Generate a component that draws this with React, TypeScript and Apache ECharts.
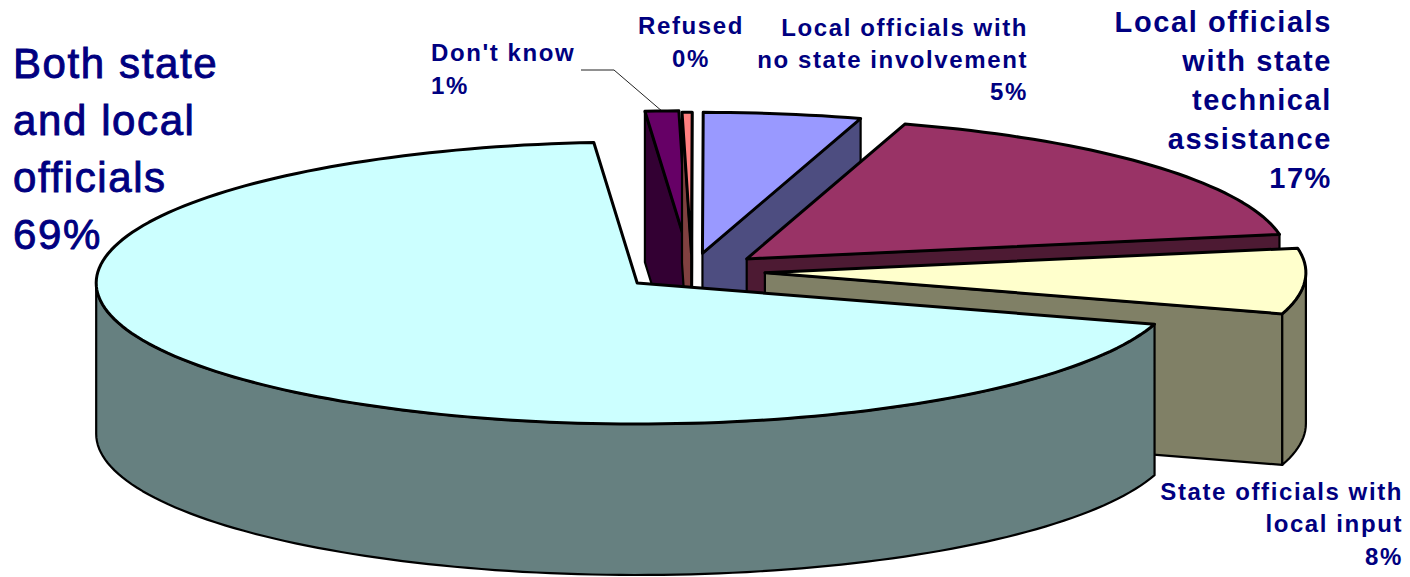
import React, { useEffect, useRef } from "react";
import * as echarts from "echarts";

// ---- data, clockwise from the pie's first slice
const categories = [
  "Both state and local officials",
  "Don't know",
  "Refused",
  "Local officials with no state involvement",
  "Local officials with state technical assistance",
  "State officials with local input",
];
const values = [69.0, 1.0, 0.3, 4.7, 17.5, 7.5];

// ---- styles
const topColors = ["#CCFFFF", "#660066", "#FF8080", "#9999FF", "#993366", "#FFFFCC"];
const wallColors = ["#668080", "#330033", "#804040", "#4D4D80", "#4D1A33", "#808066"];
// back-to-front painting order (indices into categories)
const paintOrder = [1, 2, 3, 4, 5, 0];
// how far each slice is pulled out of the pie
const explode = [0.13, 0.14, 0.13, 0.13, 0.135, 0.135];

// ---- 3D pie projection
const W = 1410;
const H = 577;
const CX = 692;
const CY = 271.5;
const RX = 541;
const RY = 141;
const DEPTH = 151;
const FIRST_ANGLE = 107; // degrees clockwise from the top of the pie

const total = values.reduce((a, b) => a + b, 0);
const rad = (d: number) => (d * Math.PI) / 180;

function sliceAngles(i: number) {
  let start = FIRST_ANGLE;
  for (let k = 0; k < i; k++) start += (values[k] / total) * 360;
  return [start, start + (values[i] / total) * 360];
}

function renderItem(params: any) {
  const i = paintOrder[params.dataIndex];
  const [a0, a1] = sliceAngles(i);
  const mid = (a0 + a1) / 2;
  const ax = CX + explode[i] * RX * Math.sin(rad(mid));
  const ay = CY - explode[i] * RY * Math.cos(rad(mid));
  const pt = (a: number, d = 0) => [
    ax + RX * Math.sin(rad(a)),
    ay - RY * Math.cos(rad(a)) + d,
  ];
  const arc = (from: number, to: number, d = 0) => {
    const n = Math.max(2, Math.ceil((to - from) / 1.5));
    const out: number[][] = [];
    for (let k = 0; k <= n; k++) out.push(pt(from + ((to - from) * k) / n, d));
    return out;
  };
  const poly = (points: number[][], fill: string, lineWidth: number) => ({
    type: "polygon",
    shape: { points },
    style: { fill, stroke: "#000", lineWidth, lineJoin: "round" },
  });
  const children: any[] = [];
  const wall = wallColors[i];
  const apex = [ax, ay];
  const apexLow = [ax, ay + DEPTH];
  // radial walls facing the viewer
  if (Math.sin(rad(a0)) < 0) {
    children.push(poly([apex, pt(a0), pt(a0, DEPTH), apexLow], wall, 2.2));
  }
  if (Math.sin(rad(a1)) > 0) {
    children.push(poly([apex, pt(a1), pt(a1, DEPTH), apexLow], wall, 2.2));
  }
  // outer rim: only the front half of the circle is seen
  for (const base of [0, 360]) {
    const from = Math.max(a0, base + 90);
    const to = Math.min(a1, base + 270);
    if (to > from) {
      children.push(poly([...arc(from, to), ...arc(from, to, DEPTH).reverse()], wall, 2.2));
    }
  }
  // top face
  children.push(poly([apex, ...arc(a0, a1)], topColors[i], 3));
  return { type: "group", children };
}

const FONT = "Liberation Sans";
const label = (
  text: string,
  x: number,
  y: number,
  size: number,
  lineHeight: number,
  align: string,
  weight: string,
  heavier = 0,
) => ({
  type: "text",
  x,
  y,
  silent: true,
  style: {
    text,
    fill: "#000080",
    stroke: heavier ? "#000080" : undefined,
    lineWidth: heavier,
    fontFamily: FONT,
    fontSize: size,
    fontWeight: weight,
    lineHeight,
    align,
    verticalAlign: "top",
  },
});

export default function App() {
  const ref = useRef<HTMLDivElement>(null);
  useEffect(() => {
    document.body.style.margin = "0";
    const chart = echarts.init(ref.current!, null, { renderer: "svg", width: W, height: H });
    chart.setOption({
      animation: false,
      backgroundColor: "#fff",
      series: [
        {
          type: "custom",
          coordinateSystem: "none",
          silent: true,
          clip: false,
          renderItem,
          data: paintOrder.map((i) => ({ name: categories[i], value: values[i] })),
        },
      ],
      graphic: {
        elements: [
          {
            type: "polyline",
            silent: true,
            shape: { points: [[581, 70], [614, 70], [663, 112]] },
            style: { stroke: "#222", lineWidth: 1, fill: "none" },
          },
          label("Both state\nand local\nofficials\n69%", 13, 35, 42, 57, "left", "normal", 0.9),
          label("Don't know\n1%", 431, 36, 24, 33, "left", "bold"),
          label("Refused\n0%", 691, 9, 24, 33, "center", "bold"),
          label("Local officials with\nno state involvement\n5%", 1028, 11, 24, 32, "right", "bold"),
          label("Local officials\nwith state\ntechnical\nassistance\n17%", 1332, 2, 29, 39, "right", "bold"),
          label("State officials with\nlocal input\n8%", 1403, 475, 24, 32.5, "right", "bold"),
        ],
      },
    });
    return () => chart.dispose();
  }, []);
  return (
    <div
      ref={ref}
      style={{ width: W, height: H, overflow: "hidden", letterSpacing: "1.6px" }}
    />
  );
}
